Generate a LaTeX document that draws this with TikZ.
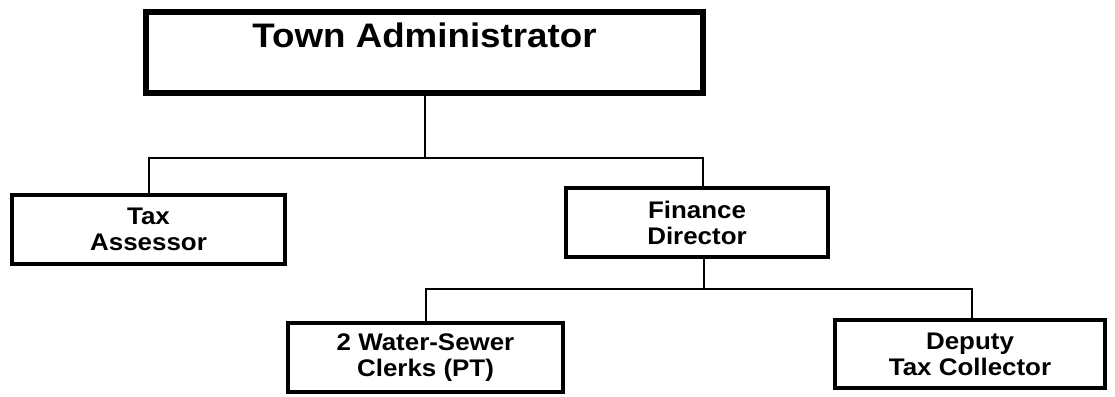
\documentclass[tikz,border=0pt]{standalone}
\usepackage{fontspec}
\newfontfamily\boxfont{Liberation Sans}[FakeStretch=1.08]
\begin{document}
\begin{tikzpicture}[x=1pt,y=-1pt,
  box/.style={draw=black, line width=4.5pt, rectangle, inner sep=0pt, align=center,
    font=\boxfont\bfseries\fontsize{24}{26}\selectfont},
  topbox/.style={draw=black, line width=5.5pt, rectangle, inner sep=0pt,
    font=\boxfont\bfseries\fontsize{34}{40}\selectfont},
  conn/.style={draw=black, line width=2pt}]
\useasboundingbox (0,0) rectangle (1115,396);
\node[topbox, minimum width=557pt, text height=36pt, text depth=45pt] (ta) at (424.5,52.5) {Town Administrator};
\node[box, minimum width=273pt, minimum height=69pt] (tax) at (148.5,229.5) {Tax\\Assessor};
\node[box, minimum width=262pt, minimum height=69pt] (fin) at (697,222.5) {Finance\\Director};
\node[box, minimum width=275pt, minimum height=69pt] (clk) at (425.5,357.5) {2 Water-Sewer\\Clerks (PT)};
\node[box, minimum width=270pt, minimum height=68pt] (dep) at (970,354) {Deputy\\Tax Collector};
\coordinate (j1) at (424.5,158);
\coordinate (fx) at (703,158);
\coordinate (gx) at (704,289);
\coordinate (dx) at (972,289);
\draw[conn] (ta.south) -- (j1);
\draw[conn] (tax.north) |- (fx) -- (fx |- fin.north);
\draw[conn] (gx |- fin.south) -- (gx);
\draw[conn] (clk.north) |- (dx) -- (dx |- dep.north);
\end{tikzpicture}
\end{document}
